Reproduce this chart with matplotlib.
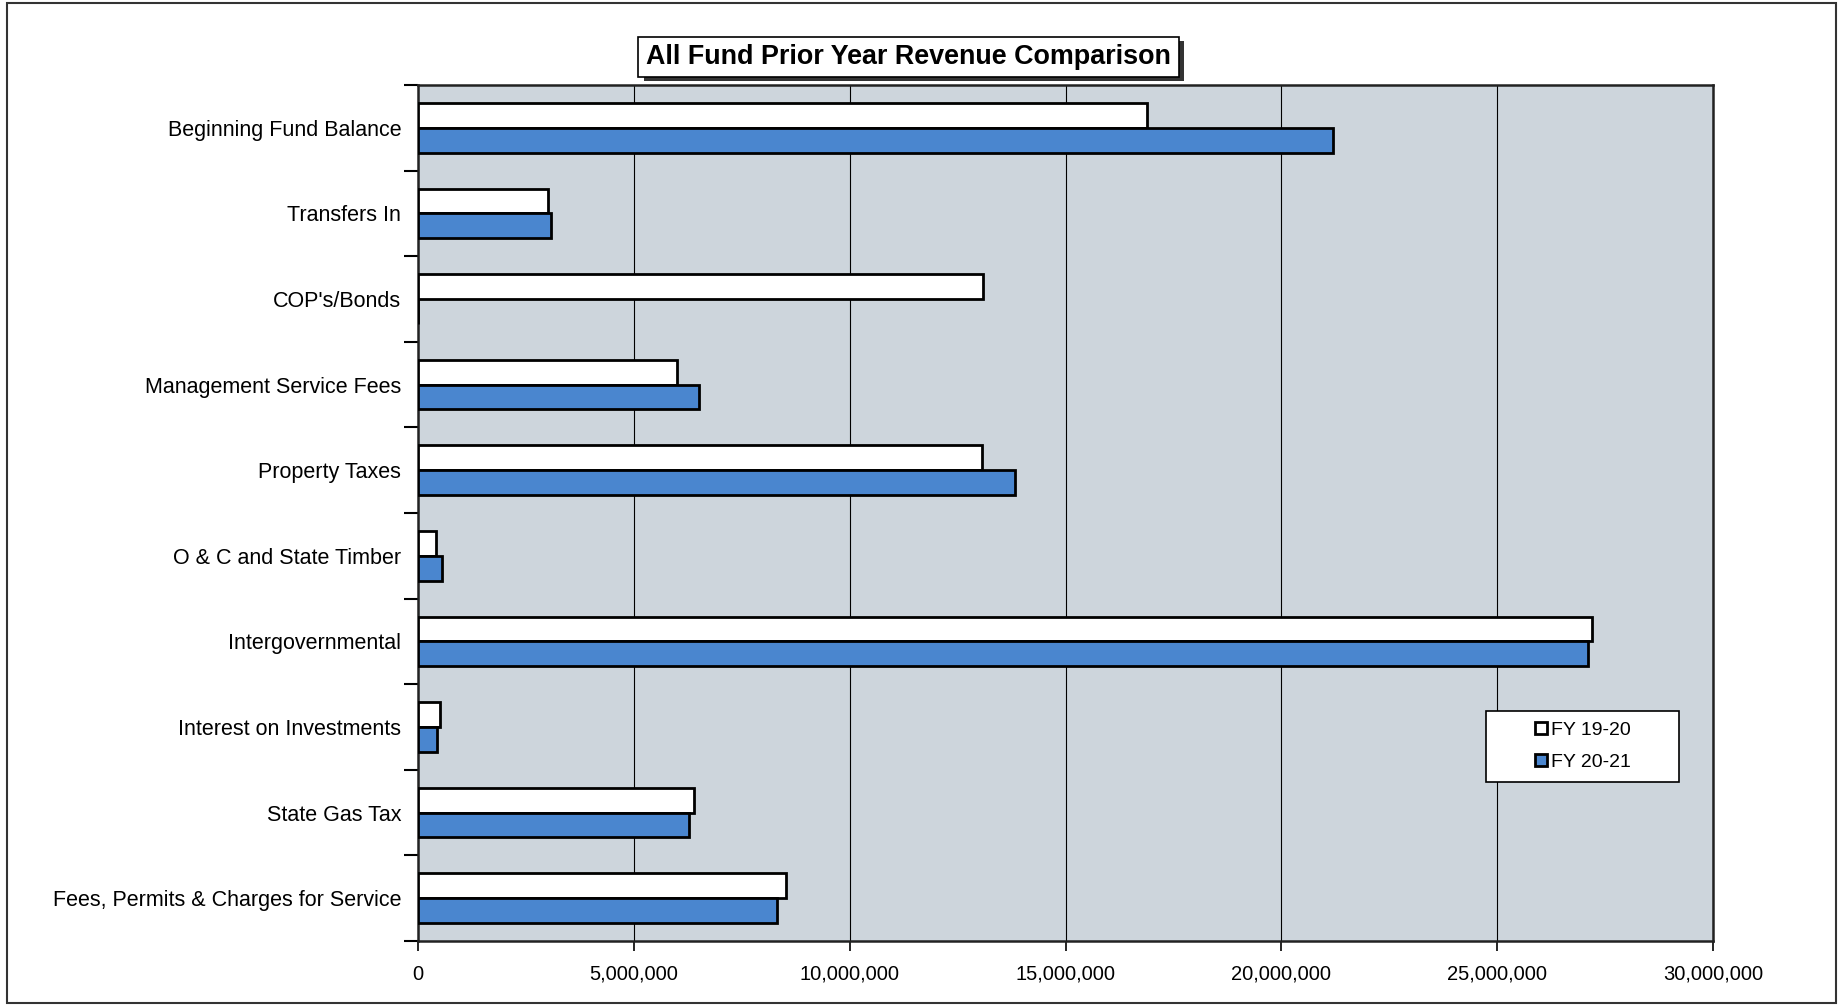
import matplotlib
matplotlib.use('Agg')
import matplotlib.pyplot as plt
from matplotlib.patches import Rectangle
from matplotlib.ticker import FuncFormatter, MultipleLocator
import numpy as np

plt.rcParams['font.family'] = ['Liberation Sans', 'DejaVu Sans']

categories = ['Beginning Fund Balance', 'Transfers In', "COP's/Bonds",
              'Management Service Fees', 'Property Taxes', 'O & C and State Timber',
              'Intergovernmental', 'Interest on Investments', 'State Gas Tax',
              'Fees, Permits & Charges for Service']
fy1920 = [16880000, 3020000, 13100000, 6000000, 13070000, 420000,
          27200000, 520000, 6390000, 8530000]
fy2021 = [21200000, 3070000, 0, 6520000, 13830000, 560000,
          27100000, 440000, 6280000, 8320000]
series_names = ['FY 19-20', 'FY 20-21']

fig = plt.figure(figsize=(18.39, 10.06), dpi=100)
ax = fig.add_axes([0.2273, 0.0646, 0.7042, 0.8509])
ax.set_facecolor('#cdd5dc')

y = np.arange(len(categories))
h = 0.29
ax.barh(y - h / 2, fy1920, height=h, color='white', edgecolor='black', linewidth=2,
        label=series_names[0], zorder=3)
ax.barh(y + h / 2, fy2021, height=h, color='#4a86cf', edgecolor='black', linewidth=2,
        label=series_names[1], zorder=3)

ax.set_xlim(0, 30000000)
ax.set_ylim(len(categories) - 0.5, -0.5)
ax.xaxis.set_major_locator(MultipleLocator(5000000))
ax.xaxis.set_major_formatter(FuncFormatter(lambda v, p: f'{int(v):,}'))
ax.grid(axis='x', color='black', linewidth=0.8, zorder=1)

ax.set_yticks(y)
ax.set_yticklabels(categories, fontsize=15.5)
ax.set_yticks(np.arange(len(categories) + 1) - 0.5, minor=True)
ax.tick_params(axis='y', which='major', length=0, pad=12)
ax.tick_params(axis='y', which='minor', length=10, width=1.5, direction='out')
ax.tick_params(axis='x', labelsize=14.5, length=7, width=1.2, direction='out', pad=10)

for s in ax.spines.values():
    s.set_linewidth(1.8)
    s.set_color('#222222')

# legend box drawn separately so the entries sit centred in a wide frame
ax.add_patch(Rectangle((0.825, 0.186), 0.149, 0.083, transform=ax.transAxes,
                       facecolor='white', edgecolor='black', linewidth=1.2, zorder=5))
leg = ax.legend(loc='center', bbox_to_anchor=(0.8995, 0.2275), fontsize=14,
                frameon=False, handlelength=0.6, handleheight=0.6, handletextpad=0.2,
                labelspacing=0.75, borderpad=0, borderaxespad=0)
leg.set_zorder(6)

# title box with drop shadow
fig.patches.append(Rectangle((0.3500, 0.9195), 0.2940, 0.0400, transform=fig.transFigure,
                             facecolor='#333333', edgecolor='none', zorder=1))
fig.patches.append(Rectangle((0.3470, 0.9235), 0.2940, 0.0400, transform=fig.transFigure,
                             facecolor='white', edgecolor='black', linewidth=1.2, zorder=2))
fig.text(0.4940, 0.9435, 'All Fund Prior Year Revenue Comparison', ha='center', va='center',
         fontsize=19.4, fontweight='bold', zorder=3)

# outer chart frame
fig.patches.append(Rectangle((0.0038, 0.003), 0.9945, 0.994, transform=fig.transFigure,
                             facecolor='none', edgecolor='#333333', linewidth=1.5))

fig.savefig('out.png', dpi=100)
